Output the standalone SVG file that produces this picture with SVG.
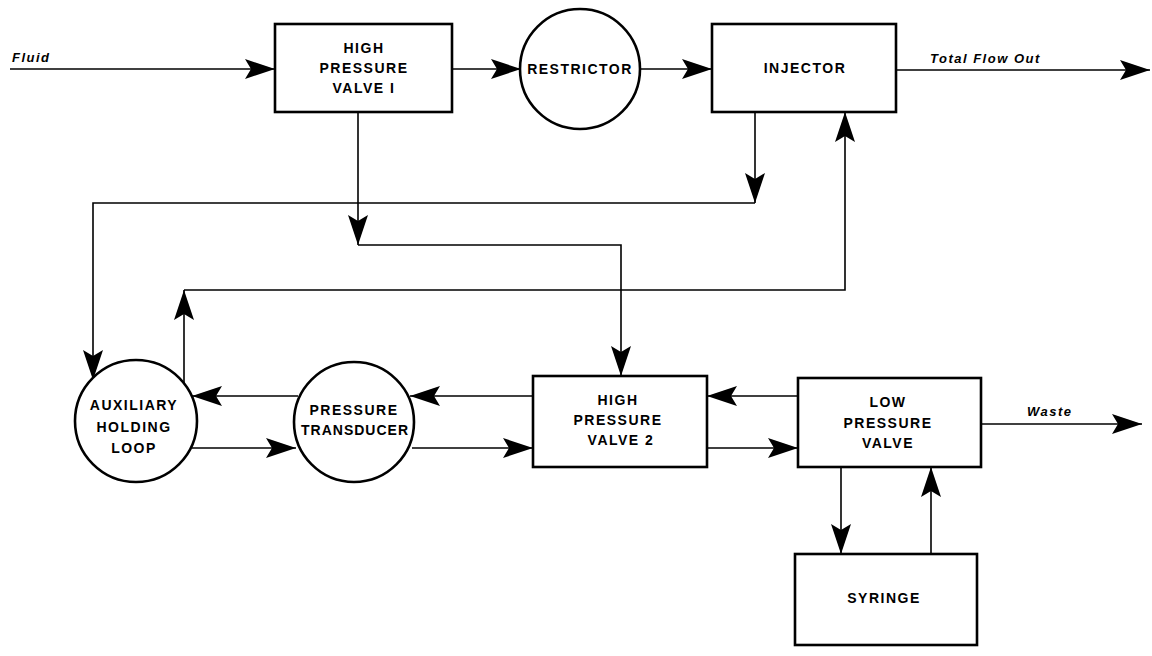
<svg xmlns="http://www.w3.org/2000/svg" width="1152" height="656" viewBox="0 0 1152 656">
<style>
.box{fill:#fff;stroke:#000;stroke-width:2.6}
.ln{fill:none;stroke:#000;stroke-width:1.6}
.t{font-family:"Liberation Sans",Arial,sans-serif;font-weight:bold;font-size:14px;letter-spacing:1.5px;text-anchor:middle;fill:#000}
.lbl{font-family:"Liberation Sans",Arial,sans-serif;font-weight:bold;font-style:italic;font-size:13px;letter-spacing:1.5px;fill:#000}
</style>
<defs>
<marker id="ah" viewBox="0 0 30 20" refX="30" refY="10" markerWidth="30" markerHeight="20" markerUnits="userSpaceOnUse" orient="auto">
<path d="M0,0 L30,10 L0,20 L6,10 Z" fill="#000"/>
</marker>
</defs>
<rect width="1152" height="656" fill="#fff"/>
<g id="connectors">
<line class="ln" x1="10" y1="69" x2="275" y2="69" marker-end="url(#ah)"/>
<line class="ln" x1="452" y1="69" x2="521" y2="69" marker-end="url(#ah)"/>
<line class="ln" x1="640" y1="69" x2="712" y2="69" marker-end="url(#ah)"/>
<line class="ln" x1="896" y1="70" x2="1150" y2="70" marker-end="url(#ah)"/>
<line class="ln" x1="755" y1="112" x2="755" y2="203" marker-end="url(#ah)"/>
<polyline class="ln" points="755,203 93,203 93,380" marker-end="url(#ah)"/>
<line class="ln" x1="358" y1="112" x2="358" y2="245" marker-end="url(#ah)"/>
<polyline class="ln" points="358,245 621,245 621,376" marker-end="url(#ah)"/>
<line class="ln" x1="184" y1="383" x2="184" y2="290" marker-end="url(#ah)"/>
<polyline class="ln" points="184,290 845,290 845,112" marker-end="url(#ah)"/>
<line class="ln" x1="533" y1="396" x2="410" y2="396" marker-end="url(#ah)"/>
<line class="ln" x1="298" y1="396" x2="192" y2="396" marker-end="url(#ah)"/>
<line class="ln" x1="192" y1="448" x2="296" y2="448" marker-end="url(#ah)"/>
<line class="ln" x1="412" y1="448" x2="533" y2="448" marker-end="url(#ah)"/>
<line class="ln" x1="798" y1="396" x2="707" y2="396" marker-end="url(#ah)"/>
<line class="ln" x1="707" y1="448" x2="798" y2="448" marker-end="url(#ah)"/>
<line class="ln" x1="981" y1="424" x2="1142" y2="424" marker-end="url(#ah)"/>
<line class="ln" x1="841" y1="467" x2="841" y2="554" marker-end="url(#ah)"/>
<line class="ln" x1="931" y1="554" x2="931" y2="467" marker-end="url(#ah)"/>
<text class="lbl" x="12" y="62">Fluid</text>
<text class="lbl" x="930" y="63">Total Flow Out</text>
<text class="lbl" x="1027" y="416">Waste</text>
</g>
<g id="hpv1">
<rect class="box" x="275" y="24" width="177" height="88"/>
<text class="t" x="364" y="53">HIGH</text>
<text class="t" x="364" y="73">PRESSURE</text>
<text class="t" x="364" y="93">VALVE I</text>
</g>
<g id="restrictor">
<circle class="box" cx="580" cy="69" r="60"/>
<text class="t" x="580" y="74">RESTRICTOR</text>
</g>
<g id="injector">
<rect class="box" x="712" y="24" width="184" height="88"/>
<text class="t" x="805" y="73">INJECTOR</text>
</g>
<g id="aux">
<circle class="box" cx="136" cy="421" r="61"/>
<text class="t" x="134" y="410">AUXILIARY</text>
<text class="t" x="134" y="432">HOLDING</text>
<text class="t" x="134" y="453">LOOP</text>
</g>
<g id="transducer">
<circle class="box" cx="354" cy="422" r="60"/>
<text class="t" x="354" y="415">PRESSURE</text>
<text class="t" x="355" y="435" style="letter-spacing:1px">TRANSDUCER</text>
</g>
<g id="hpv2">
<rect class="box" x="533" y="376" width="174" height="91"/>
<text class="t" x="618" y="405">HIGH</text>
<text class="t" x="618" y="425">PRESSURE</text>
<text class="t" x="621" y="445">VALVE 2</text>
</g>
<g id="lpv">
<rect class="box" x="798" y="378" width="183" height="89"/>
<text class="t" x="888" y="407">LOW</text>
<text class="t" x="888" y="428">PRESSURE</text>
<text class="t" x="888" y="448">VALVE</text>
</g>
<g id="syringe">
<rect class="box" x="795" y="554" width="182" height="91"/>
<text class="t" x="884" y="603">SYRINGE</text>
</g>
</svg>
